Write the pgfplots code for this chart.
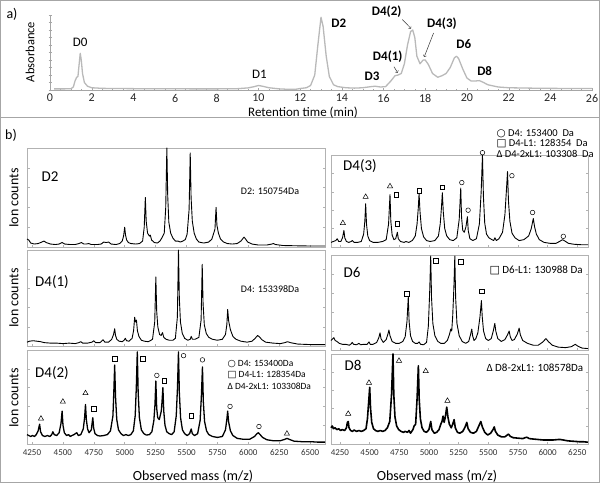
\documentclass[border=0pt]{standalone}
\usepackage{pgfplots}
\pgfplotsset{compat=1.18}
\usepackage{fontspec}
\setmainfont{Carlito}
\newfontfamily\sym{DejaVu Sans}
\newcommand{\fs}[1]{\fontsize{#1}{#1}\selectfont}
\pgfplotsset{
 spec/.style={scale only axis, anchor=south west, clip=false, ymin=0, ymax=100,
  axis line style={draw=gray!60, line width=0.6pt},
  ytick={0,20,40,60,80,100}, yticklabels={},
  tick style={draw=gray!60, line width=0.5pt},
  major tick length=2.5pt, tick align=inside, xtick pos=bottom,
  scaled x ticks=false,
  /pgf/number format/.cd, 1000 sep={}, assume math mode=true, /pgfplots/.cd,
  xticklabel style={font=\fs{9}, yshift=-2pt, text=black!80},
 },
 specL/.style={spec, xmin=4210, xmax=6620, xtick={4250,4500,...,6500}, width=298pt},
 specR/.style={spec, xmin=4175, xmax=6340, xtick={4250,4500,...,6250}, width=257pt},
 nolab/.style={xticklabels={}},
 spline/.style={black, line width=0.9pt, line join=round, mark=none},
 mk/.style={only marks, black, line width=0.5pt, mark size=2.3pt, mark options={fill=white, solid}},
}
\begin{document}
\begin{tikzpicture}
\useasboundingbox (0pt,0pt) rectangle (600pt,483pt);
\draw[gray!70, line width=1pt] (0.5pt,0.5pt) rectangle (599.5pt,482.5pt);
\draw[gray!70, line width=1pt] (0pt,365pt) -- (600pt,365pt);
\node[font=\fs{14}] at (12pt,469pt) {a)};
\node[font=\fs{14}] at (11pt,348pt) {b)};
\node[font=\fs{12.5}, rotate=90] at (30pt,431pt) {Absorbance};
\node[font=\fs{13}] at (303pt,370pt) {Retention time (min)};
% ---------- panel a ----------
\begin{axis}[scale only axis, anchor=south west, at={(50pt,393pt)}, width=542pt, height=75pt,
  xmin=0, xmax=26, ymin=0, ymax=100, clip=false,
  axis x line=bottom, axis y line=left,
  axis line style={-, draw=gray!70, line width=0.6pt},
  xtick={0,2,...,26}, minor x tick num=3, ytick={0,10,...,100}, yticklabels={},
  tick style={draw=gray!70}, major tick length=3pt, minor tick length=2pt,
  /pgf/number format/assume math mode=true,
  xticklabel style={font=\fs{12}, text=black!85, yshift=1pt}]
\addplot[gray!55, line width=1.3pt, line join=round, mark=none] coordinates {
(0.2,1.5) (0.6,1.5) (1.0,1.6) (1.12,4) (1.2,12) (1.28,17) (1.34,18) (1.4,35) (1.45,49) (1.5,40) (1.56,22) (1.65,10) (1.8,5) (2.0,3) (2.5,2.2) (3,2) (4,1.8) (5,1.7) (6,1.6) (7,1.5) (8,1.5) (9,1.8) (9.5,2.8) (9.8,4.5) (10.0,6) (10.2,5) (10.5,3) (11,1.5) (11.5,0.8) (11.8,1) (12,2) (12.3,3) (12.5,6) (12.7,20) (12.85,60) (13.0,97) (13.1,85) (13.25,45) (13.4,18) (13.6,7) (13.8,4.5) (14.2,3) (14.6,2.5) (15.0,3) (15.4,4.5) (15.6,5) (15.85,4) (16.1,4.5) (16.35,12) (16.55,19) (16.7,20) (16.85,22) (17.0,35) (17.15,60) (17.3,78) (17.4,80) (17.5,70) (17.6,45) (17.75,35) (17.9,40) (18.0,40) (18.15,34) (18.35,22) (18.6,17) (18.8,19) (19.0,22) (19.2,30) (19.4,43) (19.5,45) (19.6,42) (19.8,28) (20.0,16) (20.2,12) (20.4,12) (20.6,12.5) (20.8,10) (21.0,7) (21.5,4) (22,3) (23,2.5) (24,2.2) (25,2) (26,2)};
\node[font=\fs{13}] at (axis cs:1.45,64) {D0};
\node[font=\fs{13}] at (axis cs:10.05,21) {D1};
\node[font=\bfseries\fs{13}] at (axis cs:13.85,89) {D2};
\node[font=\bfseries\fs{13}] at (axis cs:15.45,18) {D3};
\node[font=\bfseries\fs{13}] at (axis cs:16.2,44) {D4(1)};
\node[font=\bfseries\fs{13}] at (axis cs:16.15,104) {D4(2)};
\node[font=\bfseries\fs{13}] at (axis cs:18.8,88) {D4(3)};
\node[font=\bfseries\fs{13}] at (axis cs:19.85,61) {D6};
\node[font=\bfseries\fs{13}] at (axis cs:20.85,25) {D8};
\draw[->, black!80, line width=0.5pt] (axis cs:16.9,94) -- (axis cs:17.32,82);
\draw[->, black!80, line width=0.5pt] (axis cs:18.4,76) -- (axis cs:17.95,44);
\draw[->, black!80, line width=0.5pt] (axis cs:16.5,31) -- (axis cs:16.68,23);
\end{axis}
% ---------- left column ----------
\node[font=\fs{14}, rotate=90] at (14pt,285pt) {Ion counts};
\node[font=\fs{14}, rotate=90] at (14pt,185pt) {Ion counts};
\node[font=\fs{14}, rotate=90] at (14pt,85pt) {Ion counts};
\node[font=\fs{14}] at (193pt,7pt) {Observed mass (m/z)};
\node[font=\fs{14}] at (437pt,7pt) {Observed mass (m/z)};
% D2
\begin{axis}[specL, nolab, at={(27pt,236pt)}, height=99pt]
\addplot[spline] coordinates {
(4210,8) (4225,7) (4240,4) (4270,3) (4300,3.5) (4330,5) (4347,6) (4365,4.5) (4400,3) (4440,2.5) (4470,3) (4494,4.5) (4515,3) (4560,2.5) (4600,2.5) (4630,3.5) (4650,4.5) (4670,3) (4690,3) (4709,3.5) (4730,2.5) (4780,2.5) (4810,3) (4830,5) (4850,4.5) (4870,5) (4890,3) (4930,2.5) (4960,3.5) (4980,6) (4991,11) (5000,20) (5007,12) (5016,7) (5030,4.5) (5050,3.5) (5090,3) (5120,3.5) (5145,6) (5158,20) (5167,50) (5174,26) (5185,14) (5200,11) (5207,12) (5218,7) (5240,4.5) (5265,4) (5285,6) (5300,9) (5320,14) (5332,40) (5341,100) (5348,52) (5357,25) (5372,14) (5390,9) (5410,6) (5430,6) (5450,5) (5470,6) (5490,7.5) (5505,13) (5521,38) (5530,95) (5537,50) (5547,26) (5562,14) (5580,8) (5600,5) (5640,4) (5680,5) (5705,8) (5730,18) (5739,40) (5746,22) (5758,14) (5775,8) (5800,5) (5830,3.5) (5870,3) (5910,3.5) (5940,6) (5965,10) (5978,8) (5995,5) (6030,3) (6080,2) (6150,2) (6190,3) (6202,3.5) (6220,2.5) (6280,1.5) (6400,1.2) (6500,1) (6620,1)};
\end{axis}
\node[font=\fs{15}] at (50pt,306pt) {D2};
\node[font=\fs{10}] at (270pt,292pt) {D2: 150754Da};
% D4(1)
\begin{axis}[specL, nolab, at={(27pt,137pt)}, height=96pt]
\addplot[spline] coordinates {
(4210,4) (4230,5) (4260,5.5) (4290,5) (4320,4.5) (4350,3.5) (4400,3) (4450,3) (4500,2.5) (4550,3) (4600,2.5) (4630,3.5) (4645,4.5) (4660,3) (4700,3) (4735,4) (4750,5.5) (4765,3.5) (4800,3.5) (4825,6.5) (4840,4) (4870,4) (4895,7) (4910,12) (4919,18) (4926,11) (4936,7) (4955,5) (4980,4.5) (4995,6) (5005,8) (5015,5.5) (5035,5) (5060,8) (5072,16) (5081,30) (5086,25) (5095,27) (5103,16) (5115,10) (5135,6) (5160,5) (5190,4.5) (5207,5.5) (5225,7) (5243,25) (5252,72) (5259,36) (5268,20) (5282,12) (5295,11) (5306,14) (5316,9) (5335,7) (5360,6) (5390,6) (5410,8) (5426,30) (5435,100) (5442,50) (5451,25) (5466,13) (5485,8) (5510,6) (5530,7) (5538,10) (5548,7) (5570,7) (5600,9) (5618,27) (5627,85) (5634,44) (5644,22) (5660,13) (5680,9) (5710,7) (5750,6) (5790,7) (5815,12) (5826,22) (5833,38) (5841,26) (5855,17) (5875,10) (5900,7) (5940,5) (5990,4) (6030,5) (6055,8) (6075,11) (6090,9.5) (6110,6.5) (6140,4) (6200,3) (6260,2.5) (6295,3.5) (6317,4.5) (6340,3.5) (6400,2) (6500,1.5) (6620,1.5)};
\end{axis}
\node[font=\fs{15}] at (52pt,201pt) {D4(1)};
\node[font=\fs{10}] at (270pt,194pt) {D4: 153398Da};
% D4(2)
\begin{axis}[specL, at={(27pt,39pt)}, height=94pt]
\addplot[spline, line width=1.3pt] coordinates {
(4210,10) (4225,9) (4240,8) (4255,9) (4270,8) (4285,10) (4300,14) (4312,21) (4320,13) (4335,9) (4355,8) (4375,9) (4395,8) (4410,10) (4419,13) (4430,10) (4450,9) (4470,12) (4485,22) (4494,35) (4501,20) (4512,12) (4530,9) (4546,10) (4560,8) (4573,9) (4590,10) (4613,12) (4625,9) (4645,10) (4665,16) (4676,28) (4683,42) (4690,26) (4700,16) (4712,12) (4730,15) (4742,28) (4749,17) (4760,11) (4780,9) (4800,8.5) (4830,9) (4860,10) (4885,14) (4905,30) (4912,55) (4919,84) (4926,50) (4936,26) (4950,15) (4970,11) (4990,9) (5010,10) (5030,9) (5050,10) (5070,14) (5085,30) (5094,60) (5102,98) (5109,55) (5119,28) (5135,15) (5155,11) (5175,9.5) (5200,10) (5220,13) (5236,25) (5245,42) (5252,67) (5259,38) (5267,28) (5280,26) (5296,35) (5302,45) (5309,60) (5316,35) (5326,20) (5340,13) (5360,11) (5380,10) (5400,13) (5417,30) (5427,60) (5435,98) (5442,55) (5452,28) (5467,15) (5485,11) (5505,9) (5525,11) (5538,16) (5547,11) (5565,9) (5590,11) (5610,25) (5620,50) (5629,82) (5636,45) (5646,24) (5662,14) (5680,10) (5710,8) (5750,7) (5790,8) (5815,15) (5826,26) (5833,35) (5840,24) (5855,14) (5875,9) (5910,6) (5960,5) (6010,5) (6050,8) (6070,11) (6081,12) (6095,10) (6115,7) (6150,4.5) (6200,3.5) (6260,3.5) (6295,5) (6313,6) (6330,5) (6370,3) (6430,2.5) (6500,2.5) (6560,2) (6620,2)};
\addplot[mk, mark=triangle, mark size=3pt] coordinates {(4323,27) (4500,45) (4683,54) (6312,11)};
\addplot[mk, mark=square] coordinates {(4750,37.5) (4919,91) (5145,91) (5320,67) (5538,30)};
\addplot[mk, mark=o] coordinates {(5260,73) (5476,94) (5629,89.5) (5852,40) (6086,18.6)};
\end{axis}
\node[font=\fs{15}] at (52pt,110pt) {D4(2)};
\node[font=\fs{9.5}, anchor=west] at (224pt,119pt) {{\sym ○} D4: 153400Da};
\node[font=\fs{9.5}, anchor=west] at (224pt,108pt) {{\sym □} D4-L1: 128354Da};
\node[font=\fs{9.5}, anchor=west] at (224pt,97pt) {Δ D4-2xL1: 103308Da};
% ---------- right column ----------
% D4(3)
\begin{axis}[specR, nolab, at={(331pt,236pt)}, height=92pt]
\addplot[spline] coordinates {
(4175,5) (4195,6) (4215,7) (4227,9) (4240,6) (4258,6) (4272,10) (4284,18) (4291,10) (4305,6) (4325,5) (4345,6) (4354,7) (4370,5) (4400,5) (4430,6) (4450,14) (4460,28) (4467,47) (4474,25) (4485,12) (4500,7) (4530,5) (4570,5) (4610,6) (4640,8) (4660,25) (4672,57) (4679,28) (4690,13) (4705,8) (4720,9) (4734,16) (4742,9) (4760,6) (4790,5) (4805,6) (4830,5) (4860,7) (4885,12) (4900,25) (4910,42) (4917,58) (4925,38) (4937,20) (4955,11) (4980,7) (5010,6) (5050,7) (5080,12) (5095,25) (5105,42) (5113,59) (5121,38) (5133,20) (5150,12) (5175,8) (5205,7) (5235,10) (5255,30) (5268,64) (5275,32) (5285,18) (5298,16) (5312,22) (5324,33) (5331,18) (5345,9) (5370,7) (5400,9) (5425,25) (5440,60) (5451,100) (5459,55) (5470,26) (5485,14) (5505,10) (5530,8) (5545,7) (5556,10) (5568,7) (5590,9) (5620,16) (5640,35) (5652,60) (5662,82) (5670,50) (5682,28) (5700,15) (5725,10) (5760,7) (5800,8) (5840,12) (5862,20) (5879,31) (5890,22) (5905,14) (5930,8) (5970,5) (6020,4) (6070,4) (6100,6) (6126,8) (6145,6.5) (6175,4) (6220,3) (6280,2.5) (6340,2.5)};
\addplot[mk, mark=triangle, mark size=3pt] coordinates {(4275,26) (4467,54.5) (4672,66)};
\addplot[mk, mark=square] coordinates {(4726,57) (4734,25) (4917,61) (5113,65)};
\addplot[mk, mark=o] coordinates {(5277,70) (5330,40) (5451,102.5) (5699,77.5) (5873,37.5) (6132,11.6)};
\end{axis}
\node[font=\fs{15}] at (360pt,317pt) {D4(3)};
\node[font=\fs{10.5}, anchor=west] at (493pt,349pt) {{\sym ○} D4: 153400~ Da};
\node[font=\fs{10.5}, anchor=west] at (493pt,339pt) {{\sym □} D4-L1: 128354~ Da};
\node[font=\fs{10.5}, anchor=west] at (493pt,329pt) {Δ D4-2xL1: 103308~ Da};
% D6
\begin{axis}[specR, nolab, at={(331pt,133pt)}, height=95pt]
\addplot[spline] coordinates {
(4175,10) (4190,12) (4199,13) (4210,10) (4225,9) (4245,7) (4270,6) (4300,6) (4330,5) (4345,6.5) (4354,8) (4365,6) (4390,5.5) (4410,7) (4425,5.5) (4450,6) (4480,6) (4495,8.5) (4505,6) (4530,6) (4560,8) (4578,13) (4588,18) (4596,12) (4615,8) (4640,11) (4655,17) (4663,21) (4672,15) (4690,9) (4720,7) (4750,7) (4780,9) (4800,14) (4815,30) (4826,56) (4833,30) (4845,15) (4862,9) (4885,7) (4905,7) (4917,8.5) (4930,6) (4955,5.5) (4980,8) (4995,25) (5006,60) (5015,99) (5022,55) (5033,28) (5050,15) (5075,9) (5100,7) (5130,7) (5155,10) (5172,16) (5184,22) (5192,20) (5200,35) (5210,65) (5218,99) (5225,55) (5236,28) (5255,15) (5280,9) (5310,7) (5335,9) (5350,16) (5361,22) (5368,15) (5380,10) (5395,12) (5412,18) (5430,35) (5442,52) (5449,35) (5460,20) (5478,12) (5500,10) (5525,12) (5542,20) (5555,28) (5563,20) (5580,12) (5610,9) (5640,11) (5662,16) (5676,20) (5685,14) (5700,10) (5720,11) (5745,17) (5760,23) (5770,16) (5790,10) (5830,7) (5880,5) (5920,5) (5955,8) (5986,12) (6005,9) (6040,5) (6090,3) (6150,2.5) (6200,3.5) (6233,6) (6255,4) (6290,2) (6340,1.5)};
\addplot[mk, mark=square] coordinates {(4813,59.4) (5058,94) (5268,93) (5446,62)};
\end{axis}
\node[font=\fs{15}] at (352pt,211pt) {D6};
\node[font=\fs{11}, anchor=west] at (486pt,213pt) {{\sym □} D6-L1: 130988 Da};
% D8
\begin{axis}[specR, at={(331pt,39pt)}, height=90pt]
\addplot[spline, line width=1.6pt] coordinates {
(4175,18) (4185,20) (4195,17) (4210,18) (4225,16) (4240,17) (4255,15) (4270,16) (4290,15) (4305,18) (4313,24) (4320,25) (4327,18) (4340,15) (4355,14) (4370,15.5) (4390,14) (4410,15) (4430,14) (4450,15) (4470,17) (4482,28) (4493,48) (4501,63) (4508,40) (4518,24) (4533,17) (4550,15) (4570,14) (4590,15) (4610,14) (4630,15) (4650,18) (4670,25) (4685,55) (4697,100) (4704,55) (4714,30) (4728,20) (4745,16) (4765,14) (4785,13) (4800,14) (4820,13) (4832,15) (4845,12) (4865,16) (4875,20) (4888,22) (4900,50) (4911,87) (4918,50) (4928,28) (4942,18) (4960,14) (4980,13) (5000,16) (5015,25) (5025,16) (5045,12) (5065,13) (5085,16) (5100,22) (5110,25) (5119,31) (5128,24) (5138,30) (5150,41) (5160,30) (5172,22) (5188,18) (5200,22) (5212,27) (5222,18) (5240,13) (5260,12) (5285,14) (5305,19) (5319,24) (5330,17) (5350,13) (5375,12) (5400,14) (5420,20) (5437,25) (5450,19) (5470,13) (5495,10) (5520,12) (5540,16) (5550,19) (5560,14) (5580,10) (5610,8) (5640,8) (5655,9.5) (5670,11) (5685,8.5) (5710,7) (5750,6.5) (5790,6) (5810,7) (5826,7.5) (5845,6) (5880,5.5) (5920,5) (5960,4.5) (6000,4.5) (6050,4.5) (6090,5) (6107,5) (6130,4.5) (6170,3.5) (6220,3) (6270,2.5) (6300,2.5) (6340,2)};
\addplot[mk, mark=triangle, mark size=3pt] coordinates {(4320,33.6) (4495,68) (4748,92.5) (4973,81) (5156,48)};
\end{axis}
\node[font=\fs{15}] at (353pt,118pt) {D8};
\node[font=\fs{11}, anchor=west] at (483pt,115pt) {Δ D8-2xL1: 108578Da};
\end{tikzpicture}
\end{document}
